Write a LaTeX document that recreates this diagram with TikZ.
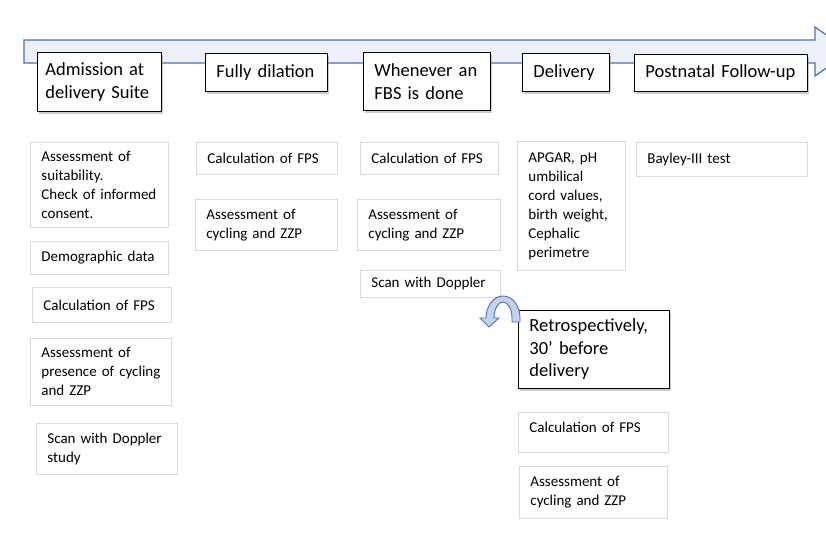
\documentclass[tikz,border=0pt]{standalone}
\usepackage{fontspec}
\setmainfont{Carlito}
\usepackage{xcolor}
\usetikzlibrary{shadows,positioning}
\definecolor{timelineblue}{RGB}{68,114,196}
\definecolor{timelinefill}{RGB}{236,241,250}
\definecolor{turnfill}{RGB}{196,211,235}
\definecolor{boxgray}{RGB}{218,218,218}

\begin{document}
\begin{tikzpicture}[x=1pt, y=-1pt,
    phase/.style={draw=black, line width=0.9pt, fill=white, anchor=north west,
        align=left, inner xsep=11pt, inner ysep=0pt,
        font=\fontsize{18.5}{22.5}\selectfont,
        drop shadow={shadow xshift=2pt, shadow yshift=-2.5pt, opacity=0.4}},
    task/.style={draw=boxgray, line width=0.8pt, fill=white, anchor=north west,
        align=left, inner xsep=11pt, inner ysep=0pt,
        font=\fontsize{15}{19}\selectfont}]
    \useasboundingbox (0,0) rectangle (826,540);
    \clip (0,0) rectangle (826,540);

    % Timeline arrow
    \draw[timelineblue, line width=1.2pt, fill=timelinefill]
        (24,40) -- (815,40) -- (815,27) -- (850,51.5) -- (815,76) -- (815,63) -- (24,63) -- cycle;

    % Phases
    \node[phase, inner xsep=8pt, text width=108pt, minimum height=59pt] (admission) at (37,52) {Admission at\\delivery Suite};
    \node[phase, text width=100pt, minimum height=38pt] (dilation) at (205,53) {Fully dilation};
    \node[phase, text width=105pt, minimum height=58pt] (fbs) at (363,52) {Whenever an\\FBS is done};
    \node[phase, text width=65pt, minimum height=38pt] (delivery) at (522,53) {Delivery};
    \node[phase, text width=151pt, minimum height=37pt] (followup) at (634,54) {Postnatal Follow-up};

    % Tasks at admission
    \node[task, text width=116pt, minimum height=85pt] (suit) at (30,142) {Assessment of\\suitability.\\Check of informed\\consent.};
    \node[task, text width=116pt, minimum height=33pt] (demo) at (30,241) {Demographic data};
    \node[task, text width=117pt, minimum height=35pt] (fpsA) at (32,287) {Calculation of FPS};
    \node[task, text width=119pt, minimum height=67pt] (cycA) at (30,338) {Assessment of\\presence of cycling\\and ZZP};
    \node[task, text width=119pt, minimum height=51pt] (dopA) at (36,423) {Scan with Doppler\\study};

    % Tasks at full dilation
    \node[task, text width=119pt, minimum height=32pt] (fpsB) at (196,142) {Calculation of FPS};
    \node[task, text width=120pt, minimum height=51pt] (cycB) at (195,199) {Assessment of\\cycling and ZZP};

    % Tasks at FBS
    \node[task, text width=116pt, minimum height=32pt] (fpsC) at (360,142) {Calculation of FPS};
    \node[task, text width=121pt, minimum height=51pt] (cycC) at (357,199) {Assessment of\\cycling and ZZP};
    \node[task, text width=118pt, minimum height=27pt] (dopC) at (360,270) {Scan with Doppler};

    % Delivery and follow-up
    \node[task, text width=86pt, minimum height=129pt] (apgar) at (517,141) {APGAR, pH\\umbilical\\cord values,\\birth weight,\\Cephalic\\perimetre};
    \node[task, text width=149pt, minimum height=34pt] (bayley) at (636,142) {Bayley-III test};

    % Retrospective analysis
    \node[phase, text width=129pt, minimum height=78pt] (retro) at (518,310) {Retrospectively,\\30’ before\\delivery};
    \node[task, text width=128pt, text depth=10pt, minimum height=40pt] (fpsR) at (518,412) {Calculation of FPS};
    \node[task, text width=126pt, minimum height=52pt] (cycR) at (519,466) {Assessment of\\cycling and ZZP};

    % U-turn arrow
    \filldraw[timelineblue, fill=turnfill, line width=0.9pt]
        (520,322) -- (520,318) arc[start angle=0, end angle=-180, x radius=17, y radius=22]
        -- (480,318) -- (489,327) -- (499,318) -- (494,318)
        arc[start angle=180, end angle=360, x radius=9, y radius=16] -- (512,322) -- cycle;
\end{tikzpicture}
\end{document}
